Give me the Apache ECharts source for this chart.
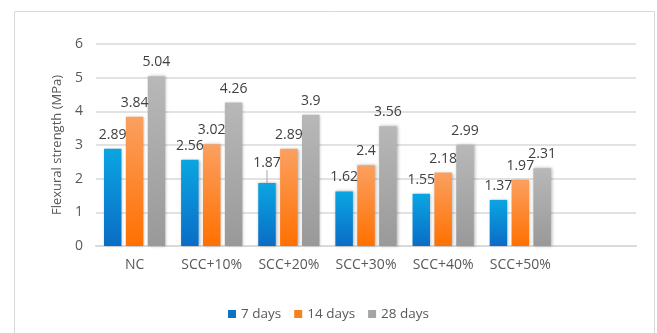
<!DOCTYPE html>
<html>
<head>
<meta charset="utf-8">
<script src="https://cdn.jsdelivr.net/npm/echarts@6/dist/echarts.min.js"></script>
<style>
  html, body { margin: 0; padding: 0; background: #fff; }
  #chart { width: 657px; height: 333px; }
</style>
</head>
<body>
<div id="chart"></div>
<script>
// Flexural strength by mix and curing age
const categories = ['NC', 'SCC+10%', 'SCC+20%', 'SCC+30%', 'SCC+40%', 'SCC+50%', ''];
const days7  = [2.89, 2.56, 1.87, 1.62, 1.55, 1.37];
const days14 = [3.84, 3.02, 2.89, 2.4, 2.18, 1.97];
const days28 = [5.04, 4.26, 3.9, 3.56, 2.99, 2.31];
const seriesNames = ['7 days', '14 days', '28 days'];
const yTicks = { min: 0, max: 6, interval: 1 };

const FONT = '"Open Sans", "Liberation Sans", sans-serif';
const TEXT = '#595959';

function grad(top, bottom) {
  return new echarts.graphic.LinearGradient(0, 0, 0, 1, [
    { offset: 0, color: top },
    { offset: 1, color: bottom }
  ]);
}

const styles = [
  { fill: grad('#0aa6e2', '#0a6cc6'), legend: '#0a73c6' },
  { fill: grad('#fba060', '#ff7000'), legend: '#f5821f' },
  { fill: grad('#b8b8b8', '#999999'), legend: '#a5a5a5' }
];

const values = [days7, days14, days28];

// the 7-day label for SCC+20% sits a little higher, tied to its bar by a short line
const raised = { series: 0, index: 2 };

const chart = echarts.init(document.getElementById('chart'), null, { renderer: 'canvas' });

chart.setOption({
  animation: false,
  backgroundColor: '#ffffff',
  graphic: [{
    type: 'rect',
    shape: { x: 14.5, y: 11.5, width: 640, height: 330 },
    style: { fill: 'none', stroke: '#d9d9d9', lineWidth: 1 },
    silent: true,
    z: -1
  }],
  grid: { left: 96, right: 21, top: 44, bottom: 87 },
  legend: {
    bottom: 7,
    left: 'center',
    icon: 'rect',
    itemWidth: 8,
    itemHeight: 8,
    itemGap: 13,
    textStyle: { fontFamily: FONT, fontSize: 13.5, color: TEXT },
    data: seriesNames.map((n, i) => ({ name: n, itemStyle: { color: styles[i].legend } }))
  },
  xAxis: {
    type: 'category',
    data: categories,
    axisLine: { lineStyle: { color: '#d9d9d9', width: 2 } },
    axisTick: { show: false },
    axisLabel: { fontFamily: FONT, fontSize: 14, color: TEXT, margin: 12, interval: 0 }
  },
  yAxis: {
    type: 'value',
    min: yTicks.min,
    max: yTicks.max,
    interval: yTicks.interval,
    name: 'Flexural strength (MPa)',
    nameLocation: 'middle',
    nameGap: 25,
    nameTextStyle: { fontFamily: FONT, fontSize: 13, color: TEXT },
    axisLine: { show: false },
    axisTick: { show: false },
    axisLabel: { fontFamily: FONT, fontSize: 14, color: TEXT, margin: 13 },
    splitLine: { lineStyle: { color: '#d9d9d9', width: 1.5 } }
  },
  series: seriesNames.map((name, i) => ({
    name,
    type: 'bar',
    data: values[i].map((v, j) => (i === raised.series && j === raised.index)
      ? { value: v, labelLine: { show: true, lineStyle: { color: '#a6a6a6', width: 1 } } }
      : v),
    barWidth: 17.5,
    barGap: '25%',
    itemStyle: {
      color: styles[i].fill,
      shadowBlur: 3,
      shadowColor: 'rgba(0,0,0,0.3)',
      shadowOffsetX: 1,
      shadowOffsetY: 0
    },
    label: {
      show: true,
      position: 'top',
      distance: 7,
      fontFamily: FONT,
      fontSize: 14,
      color: '#404040'
    },
    labelLine: { show: false },
    labelLayout: (p) => (p.seriesIndex === raised.series && p.dataIndex === raised.index) ? { dy: -6 } : {}
  }))
});
</script>
</body>
</html>
